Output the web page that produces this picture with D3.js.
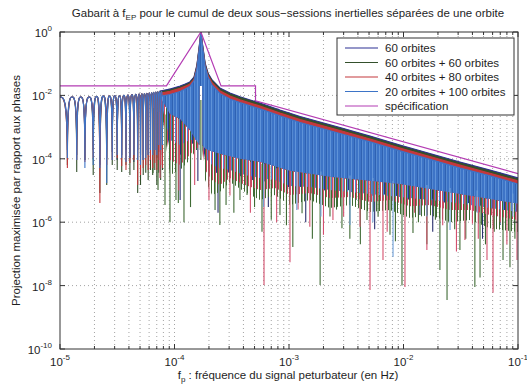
<!DOCTYPE html>
<html><head><meta charset="utf-8">
<script src="https://cdn.jsdelivr.net/npm/d3@7/dist/d3.min.js"></script>
<style>
html,body{margin:0;padding:0;background:#fff;}
svg{display:block;}
text{font-family:"Liberation Sans",Arial,Helvetica,sans-serif;fill:#1e1e1e;}
</style></head><body>
<svg id="chart" width="527" height="389"></svg>
<script>
// ---------------- DATA ----------------
const seriesNames = ["60 orbites","60 orbites + 60 orbites","40 orbites + 80 orbites","20 orbites + 100 orbites"];
const specName = "spécification";
const xTickVals = [1e-5,1e-4,1e-3,1e-2,1e-1];
const xTickExp = ["-5","-4","-3","-2","-1"];
const yTickVals = [1,1e-2,1e-4,1e-6,1e-8,1e-10];
const yTickExp = ["0","-2","-4","-6","-8","-10"];

// specification template
const specF = [1e-5, 8.5e-5, 1.7e-4, 2.55e-4, 5.1e-4, 5.1e-4, 1e-1];
const specV = [2e-2, 2e-2, 1, 2e-2, 2e-2, 6.7e-3, 3.4e-5];

// low-frequency resolved side lobes (shared lobe positions)
const lobeTopF = [1.0e-5,1.28e-5,1.52e-5,1.80e-5,2.09e-5,2.39e-5,2.71e-5,3.01e-5,3.31e-5,3.61e-5,3.92e-5,4.25e-5,4.6e-5,4.91e-5,5.19e-5,5.47e-5,5.75e-5,6.03e-5,6.31e-5,6.59e-5,6.87e-5,7.15e-5,7.43e-5,7.71e-5];
const lobeTopV = [8.9e-3,8.9e-3,8.9e-3,8.9e-3,9.2e-3,9.5e-3,9.5e-3,9.8e-3,9.8e-3,1.0e-2,1.03e-2,1.06e-2,1.08e-2,1.11e-2,1.13e-2,1.15e-2,1.17e-2,1.19e-2,1.23e-2,1.25e-2,1.28e-2,1.31e-2,1.34e-2,1.37e-2];
const lobeDipF = [1.16e-5,1.40e-5,1.65e-5,1.95e-5,2.23e-5,2.56e-5,2.86e-5,3.16e-5,3.46e-5,3.77e-5,4.08e-5,4.42e-5,4.77e-5,5.05e-5,5.33e-5,5.61e-5,5.89e-5,6.17e-5,6.45e-5,6.73e-5,7.01e-5,7.29e-5,7.57e-5,7.85e-5];
const dips60    = [1.9e-4,1.32e-4,9.2e-5,1.9e-4,6.4e-5,1.06e-4,1.65e-4,9.2e-5,1.32e-4,1.9e-4,1.06e-4,7.9e-5,1.9e-4,1.32e-4,9.2e-5,1.9e-4,1.32e-4,9.2e-5,1.32e-4,1.9e-4,1.06e-4,1.65e-4,1.32e-4,1.9e-4];
const dips6060  = [6.4e-5,3.85e-5,9.2e-5,3.1e-5,8.3e-6,1.49e-5,6.4e-5,4.4e-5,3.85e-5,6.4e-5,3.1e-5,4.4e-5,8.3e-6,1.49e-5,3.1e-5,3.6e-5,2.14e-5,4.4e-5,3.1e-5,4.4e-5,1.49e-5,3.6e-5,2.14e-5,4.4e-5];
const dips4080  = [5.1e-5,9.2e-5,7.9e-5,1.06e-4,4.0e-6,6.4e-5,9.2e-5,1.06e-4,5.9e-5,4.4e-5,7.4e-5,9.2e-5,1.49e-5,3.1e-5,5.1e-5,6.4e-5,4.4e-5,9.2e-5,5.1e-5,7.4e-5,4.4e-5,9.2e-5,6.4e-5,5.1e-5];
const dips20100 = [1.06e-4,9.2e-5,5.1e-5,6.4e-5,5.1e-5,1.73e-5,9.2e-5,1.32e-4,1.06e-4,7.9e-5,1.06e-4,1.32e-4,9.2e-5,6.4e-5,9.2e-5,1.06e-4,1.32e-4,1.9e-4,1.32e-4,1.9e-4,1.32e-4,2.72e-4,1.9e-4,2.72e-4];

// upper envelopes of the dense part
const envF = [7.47e-5,9.13e-5,1.12e-4,1.24e-4,1.36e-4,1.48e-4,1.57e-4,1.65e-4,1.70e-4,1.76e-4,1.85e-4,1.96e-4,2.13e-4,2.49e-4,3.05e-4,3.73e-4,5.58e-4,8.34e-4,1.25e-3,2.79e-3,5.1e-3,9.31e-3,1.7e-2,3.11e-2,5.69e-2,1e-1];
const top60    = [1.38e-2,1.59e-2,1.98e-2,2.29e-2,2.65e-2,3.8e-2,9.1e-2,0.39,1,0.39,0.105,5.1e-2,3.06e-2,1.71e-2,1.19e-2,9.1e-3,5.75e-3,3.46e-3,2.16e-3,9.7e-4,5.2e-4,2.72e-4,1.47e-4,7.9e-5,4.4e-5,2.48e-5];
const top6060  = [1.28e-2,1.48e-2,1.84e-2,2.13e-2,2.46e-2,3.5e-2,8.4e-2,0.36,1,0.36,9.7e-2,4.7e-2,2.85e-2,1.59e-2,1.11e-2,8.5e-3,5.35e-3,3.2e-3,2.0e-3,9.0e-4,4.85e-4,2.53e-4,1.37e-4,7.3e-5,4.1e-5,2.3e-5];
const top4080  = [1.17e-2,1.35e-2,1.68e-2,1.95e-2,2.25e-2,3.2e-2,7.7e-2,0.33,1,0.33,8.9e-2,4.3e-2,2.5e-2,1.4e-2,9.5e-3,7.3e-3,4.6e-3,2.77e-3,1.73e-3,7.8e-4,4.2e-4,2.18e-4,1.18e-4,6.3e-5,3.5e-5,2.0e-5];
const top20100 = [9.3e-3,1.07e-2,1.33e-2,1.6e-2,1.9e-2,2.9e-2,7.0e-2,0.32,1,0.32,8.2e-2,3.8e-2,2.1e-2,1.15e-2,7.7e-3,5.9e-3,3.75e-3,2.25e-3,1.4e-3,6.3e-4,3.4e-4,1.77e-4,9.6e-5,5.1e-5,2.9e-5,1.6e-5];

// lower edge of the solid (fully overlapped) band
const floorF = [7.47e-5,9.13e-5,1.12e-4,1.36e-4,1.54e-4,1.646e-4,1.656e-4,1.74e-4,1.749e-4,1.85e-4,2.04e-4,2.49e-4,3.73e-4,5.58e-4,1.02e-3,2.28e-3,4.17e-3,9.31e-3,1.7e-2,3.11e-2,5.69e-2,1e-1];
const floorV = [9.0e-3,2.6e-3,1.8e-3,8.1e-4,3.9e-4,2.72e-4,1.98e-2,1.98e-2,2.72e-4,2.1e-4,1.8e-4,1.45e-4,1.0e-4,8.0e-5,4.2e-5,2.7e-5,2.2e-5,1.6e-5,1.12e-5,7.8e-6,5.4e-6,3.8e-6];

// lower edge of the dense "grass" of minima, per series
const grassF = [7.47e-5,9.13e-5,1.12e-4,1.36e-4,1.54e-4,1.646e-4,1.656e-4,1.74e-4,1.749e-4,1.85e-4,2.13e-4,2.49e-4,3.05e-4,4.13e-4,5.58e-4,7.55e-4,1.02e-3,1.52e-3,2.28e-3,3.41e-3,5.10e-3,7.62e-3,1.14e-2,1.70e-2,2.55e-2,3.81e-2,5.69e-2,1e-1];
const grass60    = [8.5e-3,1.9e-4,1.32e-4,2.72e-4,3.4e-4,3.4e-4,1.98e-2,1.98e-2,3.4e-4,9.2e-5,4.4e-5,3.1e-5,3.85e-5,2.48e-5,1.85e-5,2.14e-5,1.2e-5,1.38e-5,9.0e-6,1.04e-5,6.7e-6,7.7e-6,5.0e-6,5.8e-6,3.7e-6,4.0e-6,2.8e-6,2.1e-6];
const grass6060  = [8.5e-3,3.1e-5,4.4e-5,9.2e-5,1.9e-4,1.9e-4,1.98e-2,1.98e-2,1.9e-4,2.14e-5,7.2e-6,8.97e-6,1.85e-5,9.0e-6,5.0e-6,7.2e-6,3.5e-6,5.0e-6,2.8e-6,3.5e-6,2.1e-6,2.43e-6,1.35e-6,1.69e-6,9.9e-7,1.17e-6,6.5e-7,4.9e-7];
const grass4080  = [8.5e-3,9.2e-5,6.4e-5,1.32e-4,2.2e-4,2.2e-4,1.98e-2,1.98e-2,2.2e-4,4.4e-5,2.14e-5,1.49e-5,2.48e-5,1.49e-5,1.04e-5,1.2e-5,7.2e-6,8.3e-6,5.8e-6,6.2e-6,4.3e-6,5.0e-6,3.2e-6,3.5e-6,2.43e-6,2.43e-6,1.69e-6,1.17e-6];
const grass20100 = [8.5e-3,3.9e-4,2.72e-4,3.9e-4,3.9e-4,3.9e-4,1.98e-2,1.98e-2,3.9e-4,1.06e-4,6.4e-5,5.1e-5,4.4e-5,3.1e-5,2.48e-5,2.14e-5,1.38e-5,1.28e-5,1.04e-5,9.0e-6,7.7e-6,6.7e-6,5.8e-6,5.0e-6,4.3e-6,3.5e-6,2.8e-6,2.1e-6];

// individual deep minima [frequency, upper value, lowest value]
const spikes60 = [[1.12e-4,1.5e-3,5e-6],[3.85e-3,2.5e-5,5e-6],[1.39e-2,1.5e-5,1.69e-6],[6.96e-2,8e-6,8.2e-7],[1.6e-4,2e-3,2e-5],[6.6e-4,6e-5,3e-6],
  [2.4e-4,2e-4,2e-6],[1.4e-3,4e-5,1e-6],[5.6e-3,2.5e-5,6e-7],[1.8e-2,1.2e-5,5e-7],[4.9e-2,9e-6,3e-7]];
const spikes6060 = [[6.49e-5,4e-3,3.56e-5],[7.18e-5,3e-3,1.04e-5],[8.26e-5,2.5e-3,3.5e-6],[9.13e-5,2.4e-3,1.0e-6],[1.03e-4,2e-3,5.0e-6],[1.08e-4,2e-3,4e-6],[1.21e-4,1.5e-3,1.0e-6],[1.38e-4,1e-3,3e-6],[1.70e-4,7.2e-3,9.2e-5],
  [2.26e-4,2e-4,2.43e-6],[2.49e-4,2e-4,8.2e-7],[2.82e-4,1.5e-4,3.5e-6],[3.3e-4,1e-4,2e-6],[3.73e-4,1e-4,5e-6],[4.3e-4,1e-4,7.2e-6],[5.0e-4,7e-5,3e-6],[5.81e-4,7e-5,5.0e-7],[7.0e-4,6e-5,1.2e-6],[8.34e-4,5e-5,1.69e-6],[9.5e-4,5e-5,8e-7],
  [1.08e-3,4e-5,1.65e-7],[1.30e-3,4e-5,1.9e-6],[1.6e-3,4e-5,3e-7],[1.87e-3,3e-5,1.04e-8],[2.28e-3,3e-5,1.5e-6],[2.6e-3,3e-5,2.5e-6],[2.9e-3,3e-5,6.5e-7],[3.4e-3,3e-5,3e-7],[4.2e-3,2.5e-5,2e-7],[4.8e-3,2e-5,1.17e-6],[6.0e-3,2e-5,1.5e-6],
  [7.62e-3,2e-5,4e-7],[8.5e-3,2e-5,2.5e-7],[9.7e-3,2e-5,1e-8],[1.21e-2,1.5e-5,4.6e-7],[1.35e-2,1.5e-5,1e-6],[1.6e-2,1.5e-5,2e-7],[1.9e-2,1.2e-5,1.2e-6],[2.08e-2,1.2e-5,3.1e-8],[2.4e-2,1.2e-5,3.5e-9],[2.8e-2,1e-5,6e-7],
  [3.11e-2,1e-5,1.33e-7],[3.5e-2,1e-5,3e-7],[4.2e-2,1e-5,9e-9],[4.66e-2,1e-5,1.8e-8],[5.2e-2,8e-6,2e-7],[6.2e-2,8e-6,5e-7],[7.4e-2,8e-6,6.4e-8],[8.51e-2,8e-6,3.8e-8],[9.4e-2,7e-6,3e-7]];
const spikes4080 = [[7.47e-5,3e-3,2.5e-5],[1.09e-4,1.8e-3,1.0e-5],[1.5e-4,8e-4,1.5e-5],[2.0e-4,2e-4,5e-6],[3.05e-4,1.5e-4,7e-6],[4.6e-4,8e-5,2e-6],[6.05e-4,7e-5,1.04e-8],[7.8e-4,5e-5,1e-6],
  [1.02e-3,5e-5,5.5e-8],[1.2e-3,4e-5,2.5e-6],[1.52e-3,4e-5,7.2e-7],[2.0e-3,3e-5,4e-7],[2.42e-3,3e-5,1.17e-6],[3.0e-3,3e-5,1.5e-6],[4.17e-3,2.5e-5,7.2e-7],[5.10e-3,2.5e-5,7.3e-9],[6.62e-3,2e-5,6.4e-8],[7.2e-3,2e-5,5e-7],
  [1.03e-2,2e-5,9e-9],[1.25e-2,1.5e-5,2e-6],[1.6e-2,1.5e-5,1.33e-7],[2.2e-2,1.2e-5,8e-7],[2.9e-2,1e-5,1.2e-7],[3.44e-2,1e-5,2.74e-7],[4.0e-2,1e-5,9e-7],[4.5e-2,1e-5,3e-7],[5.36e-2,1e-5,6.4e-8],[6.05e-2,8e-6,6e-9],[7.0e-2,8e-6,1e-6],[8.0e-2,8e-6,2e-7],[9.8e-2,7e-6,6.4e-8]];
const spikes20100 = [[6e-4,7e-5,3e-6],[1.17e-3,4e-5,2.43e-6],[1.9e-3,4e-5,1.5e-6],[3.41e-3,3e-5,8.2e-7],[5.4e-3,2.5e-5,1e-6],[8.1e-3,2e-5,8.0e-8],[1.6e-2,1.5e-5,1.5e-6],[2.55e-2,1.2e-5,5.7e-7],[4.4e-2,1e-5,2e-6],[9.0e-2,8e-6,1.5e-6]];

// ---------------- STYLE ----------------
const lineColors  = ["#2d3193","#34502c","#c4383c","#3d74c7"];
const spikeColors = ["#2a2f6e","#3f6a34","#d4506e","#6f9fd8"];
const grassColors = ["#2d3193","#3f6a34","#cf4660","#4f84cf"];
const grassPeriod = [4,3,3,4];
const grassOffset = [0,1,2,3];
const specColor = "#b43cb4";

// ---------------- CHART ----------------
const svg = d3.select("#chart");
const X = d3.scaleLog().domain([1e-5,1e-1]).range([60,518]);
const Y = d3.scaleLog().domain([1e-10,1]).range([349,32]);
const defs = svg.append("defs");
defs.append("clipPath").attr("id","clip").append("rect")
  .attr("x",60).attr("y",32).attr("width",458).attr("height",317);

grassColors.forEach((c,i)=>{
  const p = defs.append("pattern").attr("id","pat"+i).attr("patternUnits","userSpaceOnUse")
    .attr("width",grassPeriod[i]).attr("height",8).attr("x",grassOffset[i]).attr("y",0);
  p.append("rect").attr("x",0).attr("y",0).attr("width",1).attr("height",8).attr("fill",c);
});
const tex = defs.append("pattern").attr("id","bandTex").attr("patternUnits","userSpaceOnUse")
  .attr("width",7).attr("height",8);
tex.append("rect").attr("width",7).attr("height",8).attr("fill","#3d74c7");
tex.append("rect").attr("x",1).attr("width",1).attr("height",8).attr("fill","#5f93d9");
tex.append("rect").attr("x",4).attr("width",1).attr("height",8).attr("fill","#2f62b3");
tex.append("rect").attr("x",5).attr("width",1).attr("height",8).attr("fill","#5489d2");

svg.append("rect").attr("x",60).attr("y",32).attr("width",458).attr("height",317).attr("fill","#fff");

// grid
const allX = X.ticks();
svg.append("g").selectAll("line").data(allX.filter(d=>d>1.0001e-5 && d<0.09999)).join("line")
  .attr("x1",d=>X(d)).attr("x2",d=>X(d)).attr("y1",32).attr("y2",349)
  .attr("stroke","#8c8c8c").attr("stroke-width",0.8).attr("stroke-dasharray","1,3");
svg.append("g").selectAll("line").data(yTickVals.filter(d=>d<1 && d>1e-10)).join("line")
  .attr("x1",60).attr("x2",518).attr("y1",d=>Y(d)).attr("y2",d=>Y(d))
  .attr("stroke","#8c8c8c").attr("stroke-width",0.8).attr("stroke-dasharray","1,3");

const plot = svg.append("g").attr("clip-path","url(#clip)");
const line = d3.line().x(d=>X(d[0])).y(d=>Y(d[1]));

function lobePath(dips){
  let p = `M${X(lobeTopF[0])},${Y(lobeTopV[0])}`;
  for(let i=0;i<lobeDipF.length;i++){
    const xt=X(lobeTopF[i]), yt=Y(lobeTopV[i]), xd=X(lobeDipF[i]), yd=Y(dips[i]);
    p += `C${xt+0.5*(xd-xt)},${yt} ${xd},${yt} ${xd},${yd}`;
    if(i+1<lobeTopF.length){
      const xt2=X(lobeTopF[i+1]), yt2=Y(lobeTopV[i+1]);
      p += `C${xd},${yt2} ${xd+0.5*(xt2-xd)},${yt2} ${xt2},${yt2}`;
    }
  }
  return p;
}

const seriesTops = [top60,top6060,top4080,top20100];
const seriesGrass = [grass60,grass6060,grass4080,grass20100];
const seriesDips = [dips60,dips6060,dips4080,dips20100];
const seriesSpikes = [spikes60,spikes6060,spikes4080,spikes20100];

seriesNames.forEach((name,k)=>{
  const g = plot.append("g");
  const topPts = envF.map((f,i)=>[f,seriesTops[k][i]]);
  g.append("path").attr("d",lobePath(seriesDips[k])).attr("fill","none")
    .attr("stroke",lineColors[k]).attr("stroke-width",1.1);
  const gPts = grassF.map((f,i)=>[f,seriesGrass[k][i]]).reverse();
  g.append("path").attr("d",line(topPts.concat(gPts))+"Z").attr("fill",`url(#pat${k})`);
  const fPts = floorF.map((f,i)=>[f,floorV[i]]).reverse();
  g.append("path").attr("d",line(topPts.concat(fPts))+"Z")
    .attr("fill",k===3?"url(#bandTex)":lineColors[k]);
  g.append("path").attr("d",line(topPts)).attr("fill","none").attr("stroke",lineColors[k]).attr("stroke-width",1.2);
  g.append("g").selectAll("line").data(seriesSpikes[k]).join("line")
    .attr("x1",d=>X(d[0])).attr("x2",d=>X(d[0]))
    .attr("y1",d=>Y(d[1])).attr("y2",d=>Y(d[2]))
    .attr("stroke",spikeColors[k]).attr("stroke-width",1.1);
});

// specification
plot.append("path").attr("d",line(specF.map((f,i)=>[f,specV[i]])))
  .attr("fill","none").attr("stroke",specColor).attr("stroke-width",1.2);

// axes box & ticks
const ax = svg.append("g").attr("stroke","#333").attr("stroke-width",1);
ax.append("rect").attr("x",60).attr("y",32).attr("width",458).attr("height",317).attr("fill","none");
const isMajor = d=>Math.abs(Math.log10(d)-Math.round(Math.log10(d)))<1e-6;
ax.selectAll("line.xb").data(allX).join("line").attr("class","xb")
  .attr("x1",d=>X(d)).attr("x2",d=>X(d)).attr("y1",349).attr("y2",d=>349-(isMajor(d)?5:3));
ax.selectAll("line.xt").data(allX).join("line").attr("class","xt")
  .attr("x1",d=>X(d)).attr("x2",d=>X(d)).attr("y1",32).attr("y2",d=>32+(isMajor(d)?5:3));
ax.selectAll("line.yl").data(yTickVals).join("line").attr("class","yl")
  .attr("x1",60).attr("x2",65).attr("y1",d=>Y(d)).attr("y2",d=>Y(d));
ax.selectAll("line.yr").data(yTickVals).join("line").attr("class","yr")
  .attr("x1",518).attr("x2",513).attr("y1",d=>Y(d)).attr("y2",d=>Y(d));

// tick labels
const fs = 11.5;
xTickVals.forEach((v,i)=>{
  const t = svg.append("text").attr("x",X(v)).attr("y",366).attr("text-anchor","middle").attr("font-size",fs);
  t.append("tspan").text("10");
  t.append("tspan").attr("dy",-6).attr("font-size",8).text(xTickExp[i]);
});
yTickVals.forEach((v,i)=>{
  const t = svg.append("text").attr("x",52).attr("y",Y(v)+5).attr("text-anchor","end").attr("font-size",fs);
  t.append("tspan").text("10");
  t.append("tspan").attr("dy",-6).attr("font-size",8).text(yTickExp[i]);
});

// title
const tt = svg.append("text").attr("x",288).attr("y",17).attr("text-anchor","middle").attr("font-size",fs);
tt.append("tspan").text("Gabarit à f");
tt.append("tspan").attr("dy",3).attr("font-size",8).text("EP");
tt.append("tspan").attr("dy",-3).text(" pour le cumul de deux sous\u2212sessions inertielles séparées de une orbite");

// x label
const xl = svg.append("text").attr("x",288).attr("y",379).attr("text-anchor","middle").attr("font-size",fs);
xl.append("tspan").text("f");
xl.append("tspan").attr("dy",3).attr("font-size",8).text("p");
xl.append("tspan").attr("dy",-3).text(" : fréquence du signal peturbateur (en Hz)");

// y label
svg.append("text").attr("transform","translate(20,190.5) rotate(-90)").attr("text-anchor","middle")
  .attr("font-size",fs).text("Projection maximisée par rapport aux phases");

// legend
const lg = svg.append("g");
lg.append("rect").attr("x",337).attr("y",38).attr("width",177).attr("height",77)
  .attr("fill","#fff").attr("stroke","#333").attr("stroke-width",1);
const legNames = seriesNames.concat([specName]);
const legColors = lineColors.concat([specColor]);
legNames.forEach((n,i)=>{
  const yy = 48 + i*14.5;
  lg.append("line").attr("x1",345).attr("x2",378).attr("y1",yy).attr("y2",yy)
    .attr("stroke",legColors[i]).attr("stroke-width",1.1);
  lg.append("text").attr("x",385).attr("y",yy+4).attr("font-size",fs).text(n);
});
</script>
</body></html>
